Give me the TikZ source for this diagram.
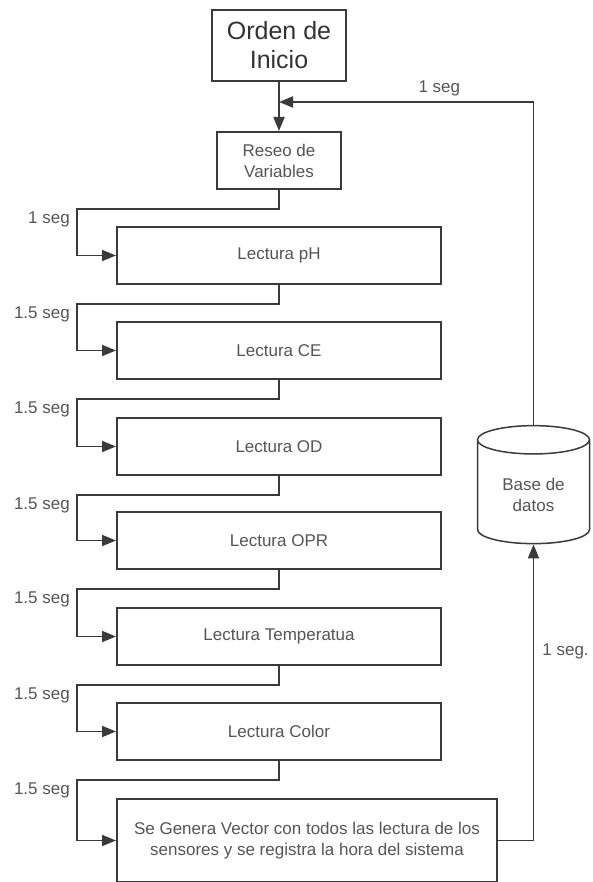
\documentclass[tikz,border=0pt]{standalone}
\usepackage{fontspec}
\setmainfont{Liberation Sans}
\usetikzlibrary{shapes.geometric}
\usetikzlibrary{positioning}
\usetikzlibrary{arrows.meta}
\usetikzlibrary{calc}
\definecolor{linea}{HTML}{3A3A3A}
\definecolor{texto}{HTML}{555555}
\tikzset{
    caja/.style = {rectangle, line width=2pt, draw=linea, align=center, fill=white, font=\fontsize{17}{21}\selectfont, text=texto, inner sep=0pt},
    cajainicio/.style = {caja, font=\fontsize{25}{29}\selectfont, text=black!80},
    cajalect/.style = {caja, minimum width=324pt, minimum height=57pt},
    basedatos/.style = {cylinder, shape border rotate=90, aspect=0.41, line width=1.5pt, draw=linea, align=center, minimum width=112pt, minimum height=118pt, font=\fontsize{17}{21}\selectfont, text=texto},
    flujo/.style = {-{Triangle[length=14pt,width=11pt]}, line width=1.8pt, linea},
    tiempo/.style = {font=\fontsize{17}{21}\selectfont, text=texto, inner sep=0pt}
}
\begin{document}
\begin{tikzpicture}[x=1pt, y=-1pt]
\useasboundingbox (0,0) rectangle (593,882);
% cajas
\node[cajainicio, minimum width=134pt, minimum height=71pt] (inicio) at (279,45.5) {Orden de\\Inicio};
\node[caja, minimum width=124pt, minimum height=57pt] (reseo) at (279,160.5) {Reseo de\\Variables};
\node[cajalect] (ph) at (279,255.5) {Lectura pH};
\node[cajalect, below=36pt of ph] (ce) {Lectura CE};
\node[cajalect, below=37pt of ce] (od) {Lectura OD};
\node[cajalect, below=35pt of od] (opr) {Lectura OPR};
\node[cajalect, below=37pt of opr] (temp) {Lectura Temperatua};
\node[cajalect, below=36pt of temp] (color) {Lectura Color};
\node[caja, minimum width=380pt, minimum height=83pt, below=37pt of color.south west, anchor=north west] (vector) {Se Genera Vector con todos las lectura de los\\sensores y se registra la hora del sistema};
\node[basedatos] (bd) at (533.5,494.5) {Base de\\datos};
% flechas
\draw[flujo] (inicio) -- (reseo);
\foreach \a/\b/\t [count=\i] in {reseo/ph/1 seg, ph/ce/1.5 seg, ce/od/1.5 seg, od/opr/1.5 seg, opr/temp/1.5 seg, temp/color/1.5 seg, color/vector/1.5 seg}{
  \draw[flujo] (\a.south) -- ++(0,19) coordinate (k\i) -| ([xshift=-39pt]\b.west) -- (\b.west);
  \node[tiempo, anchor=north east] at ($(k\i -| \b.west)+(-46,3)$) {\t};
}
\coordinate (retorno) at ($(inicio.south)+(0,20)$);
\draw[flujo] (bd.north) |- (retorno) node[tiempo, pos=0.685, above=5pt] {1 seg};
\draw[flujo] (vector.east) -| (bd.south) node[tiempo, pos=0.82, right=8pt] {1 seg.};
\end{tikzpicture}
\end{document}
